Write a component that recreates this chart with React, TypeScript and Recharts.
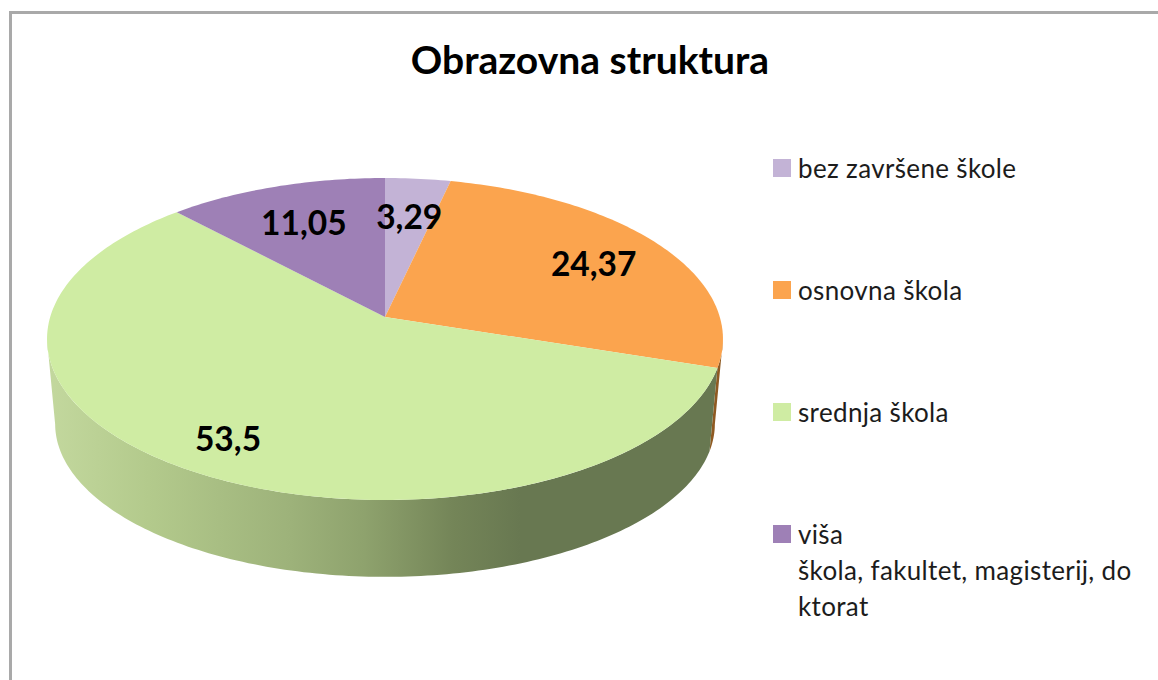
import React from "react";
import { PieChart, Pie, Legend } from "recharts";

const categories = [
  "bez završene škole",
  "osnovna škola",
  "srednja škola",
  "viša\nškola, fakultet, magisterij, do\nktorat",
];
const values = [3.29, 24.37, 53.5, 11.05];
const valueLabels = ["3,29", "24,37", "53,5", "11,05"];
const topColors = ["#c3b3d6", "#fba44e", "#cfeca3", "#9e80b6"];
const wallColors = ["#7d6a92", "#8f5a22", "url(#greenWall)", "#5f4a72"];
const labelRadii = [0.71, 0.74, 0.815, 0.71];
const labelNudge = [0, 3.5, 4.5, -1];
const wallStops: [string, string][] = [
  ["0%", "#c3d89e"],
  ["15%", "#b3ca8c"],
  ["36%", "#9db27a"],
  ["47%", "#8ea26d"],
  ["60%", "#748558"],
  ["70%", "#687851"],
  ["100%", "#687851"],
];

const chartData = categories.map((name, i) => ({
  name,
  value: values[i],
  fill: topColors[i],
  wall: wallColors[i],
  text: valueLabels[i],
  labelRadius: labelRadii[i],
  labelNudge: labelNudge[i],
}));

// Perspective projection of the unit disc on to the tilted pie
const PERSPECTIVE = -0.1366;
const HALF_W = 334.8;
const HALF_D = 158;
const project = (deg: number, r: number) => {
  const t = (deg * Math.PI) / 180;
  const u = Math.sin(t) * r;
  const v = -Math.cos(t) * r;
  const d = 1 + PERSPECTIVE * v;
  return [(HALF_W * u) / d, (HALF_D * v) / d];
};
const SHRINK_X = 0.976;
const SHRINK_Y = 0.95;
const DROP = 86;
const VISIBLE_FROM = 98;
const VISIBLE_TO = 262;

const arc = (a: number, b: number) => {
  const n = Math.max(2, Math.ceil(Math.abs(b - a)));
  return Array.from({ length: n + 1 }, (_, i) => a + ((b - a) * i) / n);
};

const TopSlice = (p: any) => {
  const a = 90 - p.startAngle;
  const b = 90 - p.endAngle;
  const pts = arc(a, b).map((d) => {
    const [x, y] = project(d, 1);
    return `${p.cx + x},${p.cy + y}`;
  });
  return <path d={`M${p.cx},${p.cy}L${pts.join("L")}Z`} fill={p.fill} />;
};

const WallSlice = (p: any) => {
  const a = Math.max(90 - p.startAngle, VISIBLE_FROM);
  const b = Math.min(90 - p.endAngle, VISIBLE_TO);
  if (b <= a) return <g />;
  const degs = arc(a, b);
  const upper = degs.map((d) => {
    const [x, y] = project(d, 1);
    return `${p.cx + x},${p.cy + y}`;
  });
  const lower = degs
    .slice()
    .reverse()
    .map((d) => {
      const [x, y] = project(d, 1);
      return `${p.cx + x * SHRINK_X},${p.cy + y * SHRINK_Y + DROP}`;
    });
  return <path d={`M${upper.join("L")}L${lower.join("L")}Z`} fill={p.wall} />;
};

const ValueLabel = (p: any) => {
  const [x, y] = project(90 - p.midAngle, p.labelRadius);
  return (
    <text
      x={p.cx + x + p.labelNudge}
      y={p.cy + y + 1}
      textAnchor="middle"
      dominantBaseline="central"
      fontFamily="Lato"
      fontWeight={700}
      fontSize={33.5}
      fill="#000"
    >
      {p.text}
    </text>
  );
};

const rowTops = [0, 122, 244, 366];
const LegendBox = () => (
  <div style={{ position: "relative", width: 385, height: 520 }}>
    {categories.map((name, i) => (
      <div
        key={name}
        style={{
          position: "absolute",
          top: rowTops[i],
          left: 0,
          fontFamily: "Lato",
          fontSize: 26,
          lineHeight: "36px",
          letterSpacing: "0.35px",
          color: "#1c1c1c",
          whiteSpace: "pre",
          paddingLeft: 25,
        }}
      >
        <span
          style={{
            position: "absolute",
            left: 0,
            top: 9,
            width: 18,
            height: 18,
            background: topColors[i],
          }}
        />
        {name}
      </div>
    ))}
  </div>
);

export default function App() {
  return (
    <div
      style={{
        position: "absolute",
        left: 0,
        top: 0,
        width: 1158,
        height: 680,
        overflow: "hidden",
        background: "#fff",
      }}
    >
      <div
        style={{
          position: "absolute",
          left: 9,
          top: 11,
          width: 1200,
          height: 720,
          borderTop: "3px solid #a9a9a9",
          borderLeft: "3px solid #a9a9a9",
        }}
      />
      <div
        style={{
          position: "absolute",
          left: 290,
          width: 600,
          top: 36,
          textAlign: "center",
          fontFamily: "Lato",
          fontWeight: 700,
          fontSize: 39,
          lineHeight: "46px",
          color: "#000",
        }}
      >
        Obrazovna struktura
      </div>
      <PieChart
        width={1158}
        height={680}
        margin={{ top: 0, right: 0, bottom: 0, left: 0 }}
        style={{ position: "absolute", left: 0, top: 0 }}
      >
        <defs>
          <linearGradient id="greenWall" gradientUnits="userSpaceOnUse" x1={47} x2={723} y1={0} y2={0}>
            {wallStops.map(([o, c]) => (
              <stop key={o} offset={o} stopColor={c} />
            ))}
          </linearGradient>
        </defs>
        <Pie
          data={chartData}
          dataKey="value"
          nameKey="name"
          cx={385}
          cy={317}
          outerRadius={338}
          startAngle={90}
          endAngle={-270}
          legendType="none"
          shape={WallSlice}
          isAnimationActive={false}
        />
        <Pie
          data={chartData}
          dataKey="value"
          nameKey="name"
          cx={385}
          cy={317}
          outerRadius={338}
          startAngle={90}
          endAngle={-270}
          legendType="square"
          shape={TopSlice}
          label={ValueLabel}
          labelLine={false}
          isAnimationActive={false}
        />
        <Legend
          content={<LegendBox />}
          layout="vertical"
          wrapperStyle={{ position: "absolute", left: 773, top: 150, width: 385, bottom: "auto" }}
        />
      </PieChart>
    </div>
  );
}
